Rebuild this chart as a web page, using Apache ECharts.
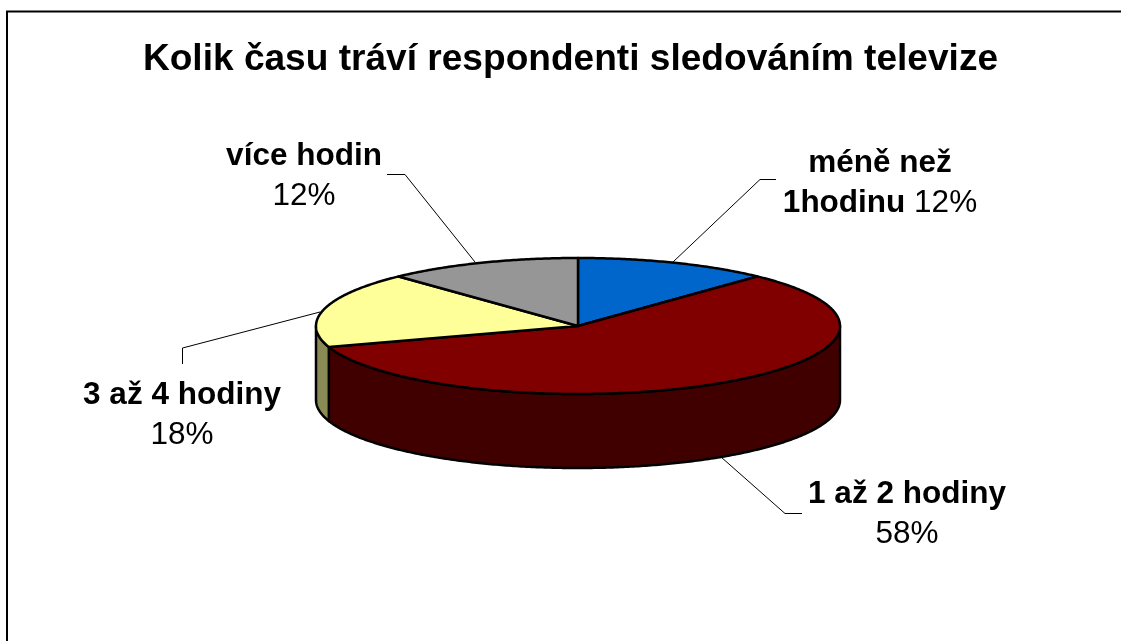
<!DOCTYPE html>
<html>
<head>
	<meta charset="utf-8">
	<title>Kolik času tráví respondenti sledováním televize</title>
	<style type="text/css">
		body{
			margin: 0px;
			background: #fff;
		}
		.chart{
			width: 1121px;
			height: 641px;
		}
	</style>
	<script type="text/javascript" src="https://cdn.jsdelivr.net/npm/echarts@6/dist/echarts.min.js"></script>
</head>
<body>
	<div id="chart" class="chart"></div>
	<script type="text/javascript">
		var titleText = 'Kolik času tráví respondenti sledováním televize';
		var categories = ['méně než\n1hodinu', '1 až 2 hodiny', '3 až 4 hodiny', 'více hodin'];
		var values = [12, 58, 18, 12];

		var topColors = ['#0066CC', '#800000', '#FFFF99', '#969696'];
		var wallColors = ['#003366', '#400000', '#8A8A55', '#4B4B4B'];
		// label anchor, percent on same line or below, leader line
		var labelPos = [[880, 143], [907, 474], [182, 375], [304, 136]];
		var pctSeparator = [' ', '\n', '\n', '\n'];
		var leaders = [
			[[673, 262], [760, 179.5], [776, 179.5]],
			[[721, 457], [785, 513.5], [802, 513.5]],
			[[320, 312], [182.5, 348], [182.5, 364]],
			[[475, 262], [405, 174.5], [387, 174.5]]
		];
		var cx = 578, cy = 326, rx = 262, ry = 68, depth = 74;
		var total = values.reduce(function(a, b){ return a + b; }, 0);

		// angle: 0 is up, clockwise, in radians
		function pt(a, dy){
			return [cx + rx * Math.sin(a), cy - ry * Math.cos(a) + (dy || 0)];
		}
		function arc(a0, a1, dy){
			var pts = [];
			var n = Math.max(2, Math.ceil(Math.abs(a1 - a0) / 0.01));
			for(var i = 0; i <= n; i++){
				pts.push(pt(a0 + (a1 - a0) * i / n, dy));
			}
			return pts;
		}
		function labelText(i){
			var lines = categories[i].split('\n').map(function(s){
				return '{b|' + s + '}';
			}).join('\n');
			return lines + pctSeparator[i] + '{n|' + Math.round(values[i] / total * 100) + '%}';
		}

		var chart = echarts.init(document.getElementById('chart'));
		chart.setOption({
			backgroundColor: '#fff',
			animation: false,
			title: {
				text: titleText,
				left: 565.5,
				top: 36,
				textAlign: 'center',
				textStyle: {
					fontFamily: 'Liberation Sans',
					fontSize: 37.1,
					fontWeight: 'bold',
					color: '#000'
				}
			},
			graphic: [{
				type: 'polyline',
				silent: true,
				shape: {points: [[7, 641], [7, 11.5], [1121, 11.5]]},
				style: {stroke: '#000', lineWidth: 2, fill: null}
			}],
			series: [{
				type: 'custom',
				coordinateSystem: 'none',
				data: values,
				renderItem: function(params, api){
					var i = params.dataIndex;
					var before = 0;
					for(var k = 0; k < i; k++){
						before += values[k];
					}
					var a0 = before / total * Math.PI * 2;
					var a1 = (before + api.value(0)) / total * Math.PI * 2;
					var children = [];
					// the wall only shows on the front half of the ellipse
					var w0 = Math.max(a0, Math.PI / 2);
					var w1 = Math.min(a1, Math.PI * 1.5);
					if(w1 > w0){
						var wall = arc(w0, w1, 0).concat(arc(w1, w0, depth));
						children.push({
							type: 'polygon',
							z2: 1,
							shape: {points: wall},
							style: {fill: wallColors[i], stroke: '#000', lineWidth: 2.5, lineJoin: 'round'}
						});
					}
					children.push({
						type: 'polygon',
						z2: 2,
						shape: {points: [[cx, cy]].concat(arc(a0, a1, 0))},
						style: {fill: topColors[i], stroke: '#000', lineWidth: 2.5, lineJoin: 'round'}
					});
					children.push({
						type: 'polyline',
						z2: 3,
						shape: {points: leaders[i]},
						style: {fill: null, stroke: '#000', lineWidth: 1}
					});
					children.push({
						type: 'text',
						z2: 3,
						x: labelPos[i][0],
						y: labelPos[i][1],
						style: {
							text: labelText(i),
							align: 'center',
							verticalAlign: 'top',
							fill: '#000',
							fontFamily: 'Liberation Sans',
							fontSize: 31.5,
							rich: {
								b: {fontFamily: 'Liberation Sans', fontSize: 31.5, fontWeight: 'bold', lineHeight: 40, fill: '#000'},
								n: {fontFamily: 'Liberation Sans', fontSize: 31.5, lineHeight: 40, fill: '#000'}
							}
						}
					});
					return {type: 'group', children: children};
				}
			}]
		});
	</script>
</body>
</html>
